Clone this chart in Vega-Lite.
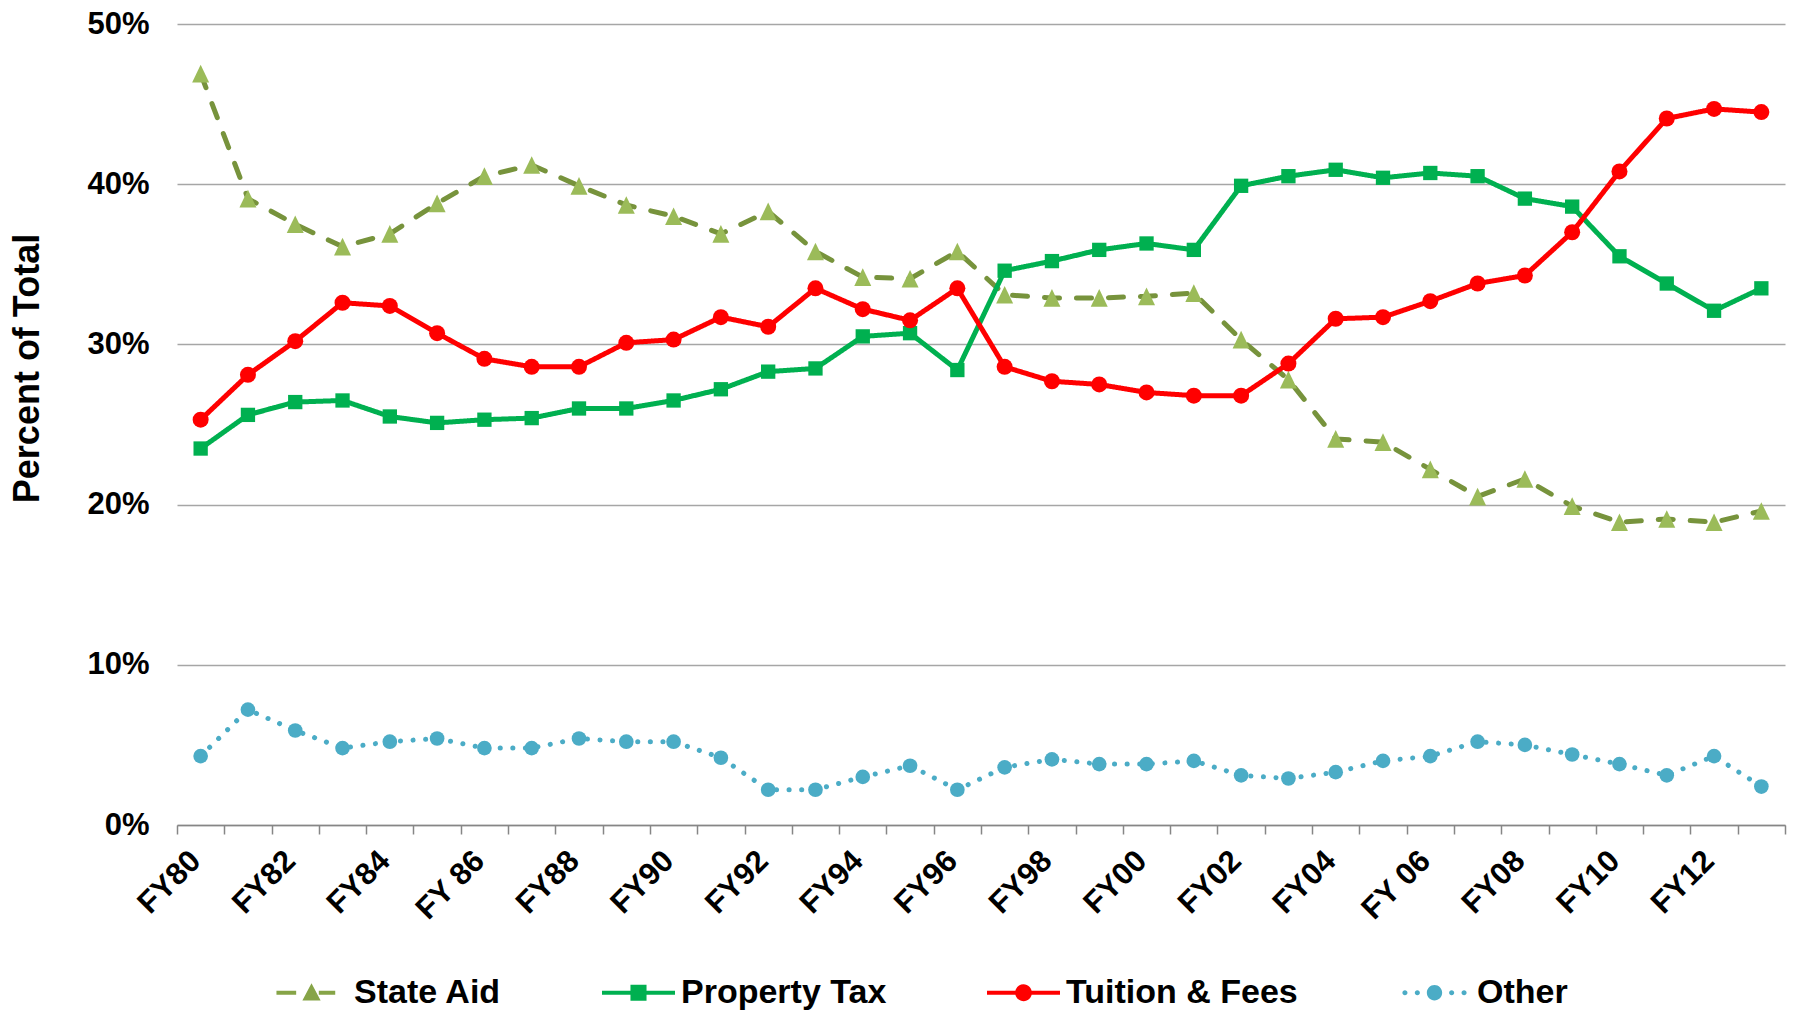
{
  "$schema": "https://vega.github.io/schema/vega-lite/v6.json",
  "width": 1608,
  "height": 801,
  "autosize": {"type": "none"},
  "padding": {"left": 177, "top": 24, "right": 11, "bottom": 186},
  "background": "white",
  "config": {"view": {"stroke": null}, "font": "Liberation Sans"},
  "data": {"values": [
    {"fy": "FY80", "State Aid": 46.9, "Property Tax": 23.5, "Tuition & Fees": 25.3, "Other": 4.3},
    {"fy": "FY81", "State Aid": 39.1, "Property Tax": 25.6, "Tuition & Fees": 28.1, "Other": 7.2},
    {"fy": "FY82", "State Aid": 37.5, "Property Tax": 26.4, "Tuition & Fees": 30.2, "Other": 5.9},
    {"fy": "FY83", "State Aid": 36.1, "Property Tax": 26.5, "Tuition & Fees": 32.6, "Other": 4.8},
    {"fy": "FY84", "State Aid": 36.9, "Property Tax": 25.5, "Tuition & Fees": 32.4, "Other": 5.2},
    {"fy": "FY85", "State Aid": 38.8, "Property Tax": 25.1, "Tuition & Fees": 30.7, "Other": 5.4},
    {"fy": "FY 86", "State Aid": 40.5, "Property Tax": 25.3, "Tuition & Fees": 29.1, "Other": 4.8},
    {"fy": "FY87", "State Aid": 41.2, "Property Tax": 25.4, "Tuition & Fees": 28.6, "Other": 4.8},
    {"fy": "FY88", "State Aid": 39.9, "Property Tax": 26.0, "Tuition & Fees": 28.6, "Other": 5.4},
    {"fy": "FY89", "State Aid": 38.7, "Property Tax": 26.0, "Tuition & Fees": 30.1, "Other": 5.2},
    {"fy": "FY90", "State Aid": 38.0, "Property Tax": 26.5, "Tuition & Fees": 30.3, "Other": 5.2},
    {"fy": "FY91", "State Aid": 36.9, "Property Tax": 27.2, "Tuition & Fees": 31.7, "Other": 4.2},
    {"fy": "FY92", "State Aid": 38.3, "Property Tax": 28.3, "Tuition & Fees": 31.1, "Other": 2.2},
    {"fy": "FY93", "State Aid": 35.8, "Property Tax": 28.5, "Tuition & Fees": 33.5, "Other": 2.2},
    {"fy": "FY94", "State Aid": 34.2, "Property Tax": 30.5, "Tuition & Fees": 32.2, "Other": 3.0},
    {"fy": "FY95", "State Aid": 34.1, "Property Tax": 30.7, "Tuition & Fees": 31.5, "Other": 3.7},
    {"fy": "FY96", "State Aid": 35.8, "Property Tax": 28.4, "Tuition & Fees": 33.5, "Other": 2.2},
    {"fy": "FY97", "State Aid": 33.1, "Property Tax": 34.6, "Tuition & Fees": 28.6, "Other": 3.6},
    {"fy": "FY98", "State Aid": 32.9, "Property Tax": 35.2, "Tuition & Fees": 27.7, "Other": 4.1},
    {"fy": "FY99", "State Aid": 32.9, "Property Tax": 35.9, "Tuition & Fees": 27.5, "Other": 3.8},
    {"fy": "FY00", "State Aid": 33.0, "Property Tax": 36.3, "Tuition & Fees": 27.0, "Other": 3.8},
    {"fy": "FY01", "State Aid": 33.2, "Property Tax": 35.9, "Tuition & Fees": 26.8, "Other": 4.0},
    {"fy": "FY02", "State Aid": 30.3, "Property Tax": 39.9, "Tuition & Fees": 26.8, "Other": 3.1},
    {"fy": "FY03", "State Aid": 27.8, "Property Tax": 40.5, "Tuition & Fees": 28.8, "Other": 2.9},
    {"fy": "FY04", "State Aid": 24.1, "Property Tax": 40.9, "Tuition & Fees": 31.6, "Other": 3.3},
    {"fy": "FY05", "State Aid": 23.9, "Property Tax": 40.4, "Tuition & Fees": 31.7, "Other": 4.0},
    {"fy": "FY 06", "State Aid": 22.2, "Property Tax": 40.7, "Tuition & Fees": 32.7, "Other": 4.3},
    {"fy": "FY07", "State Aid": 20.5, "Property Tax": 40.5, "Tuition & Fees": 33.8, "Other": 5.2},
    {"fy": "FY08", "State Aid": 21.6, "Property Tax": 39.1, "Tuition & Fees": 34.3, "Other": 5.0},
    {"fy": "FY09", "State Aid": 19.9, "Property Tax": 38.6, "Tuition & Fees": 37.0, "Other": 4.4},
    {"fy": "FY10", "State Aid": 18.9, "Property Tax": 35.5, "Tuition & Fees": 40.8, "Other": 3.8},
    {"fy": "FY11", "State Aid": 19.1, "Property Tax": 33.8, "Tuition & Fees": 44.1, "Other": 3.1},
    {"fy": "FY12", "State Aid": 18.9, "Property Tax": 32.1, "Tuition & Fees": 44.7, "Other": 4.3},
    {"fy": "FY13", "State Aid": 19.6, "Property Tax": 33.5, "Tuition & Fees": 44.5, "Other": 2.4}
  ]},
  "transform": [{"fold": ["State Aid", "Property Tax", "Tuition & Fees", "Other"], "as": ["series", "v"]}],
  "encoding": {
    "x": {
      "field": "fy", "type": "nominal", "sort": null,
      "scale": {"type": "band", "paddingInner": 0, "paddingOuter": 0},
      "axis": {
        "title": null, "grid": false,
        "domainColor": "#868686", "domainWidth": 1.5,
        "tickColor": "#868686", "tickWidth": 1.5, "tickSize": 9, "tickBand": "extent",
        "labelAngle": -45, "labelAlign": "right", "labelBaseline": "middle",
        "labelFont": "Liberation Sans", "labelFontSize": 31, "labelFontWeight": "bold", "labelColor": "black",
        "labelPadding": 22, "labelOffset": -5,
        "labelExpr": "test(/[13579]$/, datum.value) ? '' : datum.label"
      }
    },
    "y": {
      "field": "v", "type": "quantitative",
      "scale": {"domain": [0, 50], "nice": false},
      "axis": {
        "values": [0, 10, 20, 30, 40, 50],
        "labelExpr": "datum.value + '%'",
        "domain": false, "ticks": false,
        "gridColor": "#A6A6A6", "gridWidth": 1.5,
        "labelFont": "Liberation Sans", "labelFontSize": 31, "labelFontWeight": "bold", "labelColor": "black",
        "labelPadding": 28,
        "title": "Percent of Total",
        "titleFont": "Liberation Sans", "titleFontSize": 36, "titleFontWeight": "bold", "titleColor": "black",
        "titleAngle": -90, "titleBaseline": "middle", "titleAlign": "center",
        "titleX": -150, "titleY": 344
      }
    }
  },
  "layer": [
    {
      "mark": {"type": "line", "strokeWidth": 5, "strokeCap": "round", "strokeJoin": "round"},
      "encoding": {
        "stroke": {
          "field": "series", "type": "nominal",
          "scale": {"range": ["#4BACC6", "#00B050", "#77933C", "#FF0000"]},
          "legend": null
        },
        "strokeDash": {
          "field": "series", "type": "nominal",
          "scale": {"range": [[0.1, 12.5], [1, 0], [15, 17], [1, 0]]},
          "legend": null
        }
      }
    },
    {
      "mark": {"type": "point", "filled": true, "opacity": 0},
      "encoding": {
        "shape": {
          "field": "series", "type": "nominal",
          "scale": {"domain": ["State Aid", "Property Tax", "Tuition & Fees", "Other"], "range": [
            "M-0.96,-0.055H-0.42V0.055H-0.96Z M0.2,-0.055H0.65V0.055H0.2Z M0,-0.26L0.25,0.21H-0.25Z",
            "M-1,-0.055H1V0.055H-1Z M-0.22,-0.22H0.22V0.22H-0.22Z",
            "M-1,-0.055H1V0.055H-1Z M-0.23,0A0.23,0.23,0,1,1,0.23,0A0.23,0.23,0,1,1,-0.23,0Z",
            "M-0.88,0A0.07,0.07,0,1,1,-0.74,0A0.07,0.07,0,1,1,-0.88,0Z M-0.54,0A0.07,0.07,0,1,1,-0.4,0A0.07,0.07,0,1,1,-0.54,0Z M0.4,0A0.07,0.07,0,1,1,0.54,0A0.07,0.07,0,1,1,0.4,0Z M0.74,0A0.07,0.07,0,1,1,0.88,0A0.07,0.07,0,1,1,0.74,0Z M-0.21,0A0.21,0.21,0,1,1,0.21,0A0.21,0.21,0,1,1,-0.21,0Z"
          ]},
          "legend": {
            "orient": "none", "direction": "horizontal", "columns": 4,
            "legendX": 98, "legendY": 932,
            "title": null,
            "labelFont": "Liberation Sans", "labelFontSize": 34, "labelFontWeight": "bold", "labelColor": "black",
            "labelLimit": 400, "labelOffset": 6, "columnPadding": 100,
            "symbolSize": 5329, "symbolOpacity": 1, "symbolStrokeWidth": 0
          }
        },
        "fill": {
          "field": "series", "type": "nominal",
          "scale": {"domain": ["State Aid", "Property Tax", "Tuition & Fees", "Other"], "range": ["#86A447", "#00B050", "#FF0000", "#4BACC6"]},
          "legend": {
            "orient": "none", "direction": "horizontal", "columns": 4,
            "legendX": 98, "legendY": 932,
            "title": null,
            "labelFont": "Liberation Sans", "labelFontSize": 34, "labelFontWeight": "bold", "labelColor": "black",
            "labelLimit": 400, "labelOffset": 6, "columnPadding": 100,
            "symbolSize": 5329, "symbolOpacity": 1, "symbolStrokeWidth": 0
          }
        }
      }
    },
    {
      "transform": [{"filter": "datum.series === 'State Aid'"}],
      "mark": {"type": "point", "shape": "M0,-1.04L1,1.04H-1Z", "filled": true, "opacity": 1, "strokeWidth": 0, "fill": "#9BBB59", "size": 289}
    },
    {
      "transform": [{"filter": "datum.series === 'Property Tax'"}],
      "mark": {"type": "point", "shape": "square", "filled": true, "opacity": 1, "strokeWidth": 0, "fill": "#00B050", "size": 205}
    },
    {
      "transform": [{"filter": "datum.series === 'Tuition & Fees'"}],
      "mark": {"type": "point", "shape": "circle", "filled": true, "opacity": 1, "strokeWidth": 0, "fill": "#FF0000", "size": 256}
    },
    {
      "transform": [{"filter": "datum.series === 'Other'"}],
      "mark": {"type": "point", "shape": "circle", "filled": true, "opacity": 1, "strokeWidth": 0, "fill": "#4BACC6", "size": 215}
    }
  ]
}
